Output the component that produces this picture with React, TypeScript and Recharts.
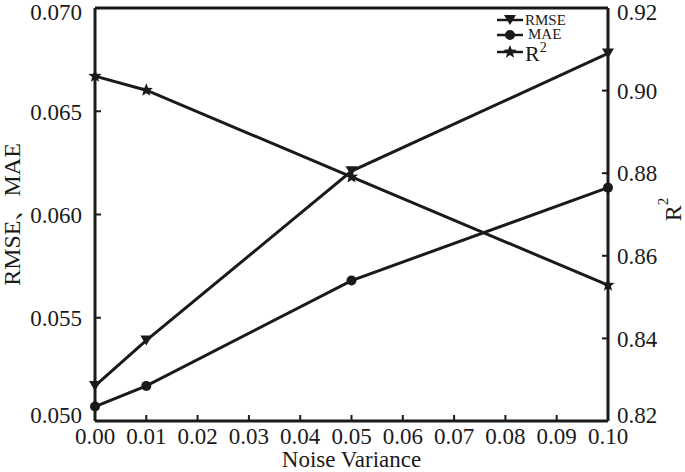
import React from "react";
import { LineChart, Line, XAxis, YAxis, ReferenceLine, Legend, Label } from "recharts";

const noiseVariance = [0, 0.01, 0.05, 0.1];
const rmse = [0.0517, 0.0539, 0.0621, 0.0678];
const mae = [0.0507, 0.0517, 0.0568, 0.0613];
const r2 = [0.9035, 0.9001, 0.8791, 0.8529];

const xTicks = [0, 0.01, 0.02, 0.03, 0.04, 0.05, 0.06, 0.07, 0.08, 0.09, 0.1];
const leftTicks = [0.05, 0.055, 0.06, 0.065, 0.07];
const rightTicks = [0.82, 0.84, 0.86, 0.88, 0.9, 0.92];

const data = noiseVariance.map((x, i) => ({ x, rmse: rmse[i], mae: mae[i], r2: r2[i] }));

const FONT = "'Liberation Serif', 'Times New Roman', 'Noto Serif CJK SC', 'Noto Sans CJK SC', serif";
const INK = "#1a1a1a";
const txt = { fontFamily: FONT };

const starPath = (cx: number, cy: number, ro: number, ri: number) => {
  let d = "";
  for (let k = 0; k < 10; k++) {
    const r = k % 2 === 0 ? ro : ri;
    const a = -Math.PI / 2 + (k * Math.PI) / 5;
    d += (k === 0 ? "M" : "L") + (cx + r * Math.cos(a)).toFixed(2) + "," + (cy + r * Math.sin(a)).toFixed(2);
  }
  return d + "Z";
};

const Tri = ({ cx, cy }: any) => (
  <path d={`M${cx - 6},${cy - 5}L${cx + 6},${cy - 5}L${cx},${cy + 5}Z`} fill={INK} />
);
const Dot = ({ cx, cy }: any) => <circle cx={cx} cy={cy} r={5} fill={INK} />;
const Star = ({ cx, cy }: any) => <path d={starPath(cx, cy, 7, 3)} fill={INK} />;

const triDot = (p: any) => <Tri key={`t${p.index}`} cx={p.cx} cy={p.cy} />;
const circDot = (p: any) => <Dot key={`c${p.index}`} cx={p.cx} cy={p.cy} />;
const starDot = (p: any) => <Star key={`s${p.index}`} cx={p.cx} cy={p.cy} />;

// y tick labels are nudged inward at the plot edges like the original
const YTick = ({ x, y, payload, textAnchor, digits }: any) => {
  const yy = Math.min(Math.max(y, 12), 415);
  return (
    <text x={x} y={yy} dy="0.36em" textAnchor={textAnchor} fontSize={23} fill={INK} style={txt}>
      {payload.value.toFixed(digits)}
    </text>
  );
};

const XTick = ({ x, y, payload }: any) => (
  <text x={x} y={y} dy="0.71em" textAnchor="middle" fontSize={23} fill={INK} style={txt}>
    {payload.value.toFixed(2)}
  </text>
);

const LegendBox = () => (
  <svg width={110} height={56} style={{ display: "block" }}>
    <g stroke={INK} strokeWidth={2.5}>
      <line x1={5} x2={31} y1={10} y2={10} />
      <line x1={5} x2={31} y1={25} y2={25} />
      <line x1={5} x2={31} y1={42} y2={42} />
    </g>
    <Tri cx={18} cy={10} />
    <Dot cx={18} cy={25} />
    <Star cx={18} cy={42} />
    <g fill={INK} style={txt}>
      <text x={33} y={15} fontSize={15}>RMSE</text>
      <text x={36} y={29} fontSize={15}>MAE</text>
      <text x={33} y={51} fontSize={22}>
        R<tspan fontSize={14} dy={-9}>2</tspan>
      </text>
    </g>
  </svg>
);

const LeftTitle = (props: any) => {
  const { viewBox } = props;
  const cy = viewBox.y + viewBox.height / 2;
  return (
    <text x={12} y={cy} transform={`rotate(-90 12 ${cy})`} textAnchor="middle" dominantBaseline="central"
      fontSize={24} fill={INK} style={txt}>
      RMSE、MAE
    </text>
  );
};

const RightTitle = (props: any) => {
  const { viewBox } = props;
  const cy = viewBox.y + viewBox.height / 2 - 5;
  return (
    <text x={673} y={cy} transform={`rotate(-90 673 ${cy})`} textAnchor="middle" dominantBaseline="central"
      fontSize={24} fill={INK} style={txt}>
      R<tspan fontSize={15} dy={-10}>2</tspan>
    </text>
  );
};

const XTitle = (props: any) => {
  const { viewBox } = props;
  return (
    <text x={viewBox.x + viewBox.width / 2} y={467} textAnchor="middle" fontSize={23} fill={INK} style={txt}>
      Noise Variance
    </text>
  );
};

export default function App() {
  const axisLine = { stroke: INK, strokeWidth: 3 };
  const tickLine = { stroke: INK, strokeWidth: 2 };
  return (
    <div style={{ position: "absolute", left: 0, top: 0, background: "#fff", fontFamily: FONT }}>
      <LineChart width={685} height={472} data={data} margin={{ top: 8, right: 0, bottom: 0, left: 0 }}>
        <XAxis dataKey="x" type="number" domain={[0, 0.1]} ticks={xTicks} interval={0} height={51}
          axisLine={axisLine} tickLine={tickLine} tickSize={-6} tickMargin={13} tick={<XTick />}>
          <Label content={<XTitle />} />
        </XAxis>
        <YAxis yAxisId="left" orientation="left" width={95} domain={[0.05, 0.07]} ticks={leftTicks}
          interval={0} axisLine={axisLine} tickLine={tickLine} tickSize={-6} tickMargin={19}
          tick={<YTick digits={3} />}>
          <Label content={<LeftTitle />} />
        </YAxis>
        <YAxis yAxisId="right" orientation="right" width={77} domain={[0.82, 0.92]} ticks={rightTicks}
          interval={0} axisLine={axisLine} tickLine={tickLine} tickSize={-6} tickMargin={15}
          tick={<YTick digits={2} />}>
          <Label content={<RightTitle />} />
        </YAxis>
        <ReferenceLine yAxisId="left" y={0.07} stroke={INK} strokeWidth={3} />
        <Legend layout="vertical" align="center" verticalAlign="middle" content={<LegendBox />}
          wrapperStyle={{ position: "absolute", left: 492, top: 10, width: 110, height: 56 }} />
        <Line yAxisId="left" dataKey="rmse" name="RMSE" stroke={INK} strokeWidth={3}
          dot={triDot} isAnimationActive={false} />
        <Line yAxisId="left" dataKey="mae" name="MAE" stroke={INK} strokeWidth={3}
          dot={circDot} isAnimationActive={false} />
        <Line yAxisId="right" dataKey="r2" name="R2" stroke={INK} strokeWidth={3}
          dot={starDot} isAnimationActive={false} />
      </LineChart>
    </div>
  );
}
